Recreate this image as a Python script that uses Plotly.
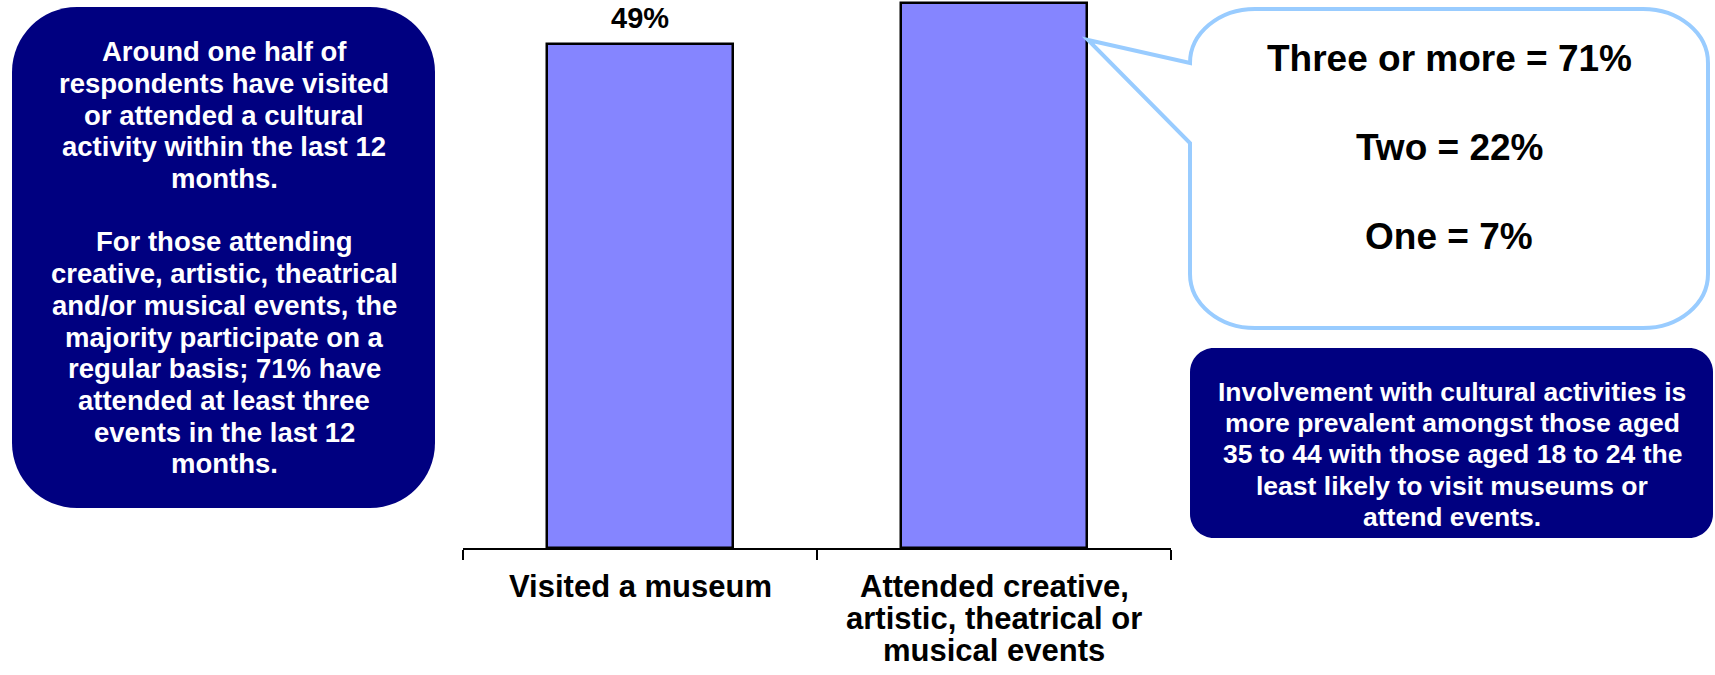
import plotly.graph_objects as go

# Figure size in pixels; everything outside the bar axes is placed in paper units
W, H = 1715, 675

categories = ["Visited a museum", "Attended creative, artistic, theatrical or musical events"]
category_lines = [["Visited a museum"], ["Attended creative,", "artistic, theatrical or", "musical events"]]
values = [49, 53]
show_value = [True, False]

frequency_lines = ["Three or more = 71%", "Two = 22%", "One = 7%"]

left_note = [
    "Around one half of",
    "respondents have visited",
    "or attended a cultural",
    "activity within the last 12",
    "months.",
    "",
    "For those attending",
    "creative, artistic, theatrical",
    "and/or musical events, the",
    "majority participate on a",
    "regular basis; 71% have",
    "attended at least three",
    "events in the last 12",
    "months.",
]

right_note = [
    "Involvement with cultural activities is",
    "more prevalent amongst those aged",
    "35 to 44 with those aged 18 to 24 the",
    "least likely to visit museums or",
    "attend events.",
]

FONT = "Liberation Sans, Arial, Helvetica, sans-serif"
NAVY = "#000080"
BAR_FILL = "#8585FF"
BUBBLE_LINE = "#99CCFF"


def px(x):
    return x / W


def py(y):
    return 1 - y / H


def pt(x, y):
    return f"{px(x):.5f},{py(y):.5f}"


def rounded_rect_path(x0, y0, x1, y1, rx, ry, tail=None):
    """Rounded rectangle (pixel box) as an SVG path in paper units.
    tail = (y_low, tip_x, tip_y, y_high) adds a wedge on the left edge."""
    k = 0.5523
    p = [f"M{pt(x0 + rx, y0)}", f"L{pt(x1 - rx, y0)}",
         f"C{pt(x1 - rx + k * rx, y0)} {pt(x1, y0 + ry - k * ry)} {pt(x1, y0 + ry)}",
         f"L{pt(x1, y1 - ry)}",
         f"C{pt(x1, y1 - ry + k * ry)} {pt(x1 - rx + k * rx, y1)} {pt(x1 - rx, y1)}",
         f"L{pt(x0 + rx, y1)}",
         f"C{pt(x0 + rx - k * rx, y1)} {pt(x0, y1 - ry + k * ry)} {pt(x0, y1 - ry)}"]
    if tail is not None:
        y_low, tx, ty, y_high = tail
        p += [f"L{pt(x0, y_low)}", f"L{pt(tx, ty)}", f"L{pt(x0, y_high)}"]
    p += [f"L{pt(x0, y0 + ry)}",
          f"C{pt(x0, y0 + ry - k * ry)} {pt(x0 + rx - k * rx, y0)} {pt(x0 + rx, y0)}", "Z"]
    return " ".join(p)


fig = go.Figure()
fig.add_trace(go.Bar(
    x=categories,
    y=values,
    width=0.528,
    marker=dict(color=BAR_FILL, line=dict(color="black", width=2.5)),
    hoverinfo="skip",
))

shapes = [
    # navy summary panel on the left
    dict(type="path", xref="paper", yref="paper", layer="above",
         path=rounded_rect_path(12, 7, 435, 508, 65, 65),
         fillcolor=NAVY, line=dict(width=0)),
    # speech bubble pointing at the events bar
    dict(type="path", xref="paper", yref="paper", layer="above",
         path=rounded_rect_path(1190, 9, 1708, 328, 65, 54, tail=(143, 1088, 40, 63)),
         fillcolor="white", line=dict(color=BUBBLE_LINE, width=4)),
    # navy note panel, bottom right
    dict(type="path", xref="paper", yref="paper", layer="above",
         path=rounded_rect_path(1190, 348, 1713, 538, 24, 24),
         fillcolor=NAVY, line=dict(width=0)),
]

annotations = []

# value labels above the bars
for cat, v, show in zip(categories, values, show_value):
    if show:
        annotations.append(dict(
            x=cat, y=v, xref="x", yref="y", text=f"<b>{v}%</b>", showarrow=False,
            xanchor="center", yanchor="middle", yshift=26,
            font=dict(family=FONT, size=29, color="black"),
        ))

# category labels under the axis, one annotation per line
for cat, lines in zip(categories, category_lines):
    for i, line in enumerate(lines):
        annotations.append(dict(
            x=cat, y=py(586 + 32 * i), xref="x", yref="paper", text=f"<b>{line}</b>",
            showarrow=False, xanchor="center", yanchor="middle",
            font=dict(family=FONT, size=31, color="black"),
        ))

# left panel text
for i, line in enumerate(left_note):
    if line:
        annotations.append(dict(
            x=px(224), y=py(51.7 + 31.7 * i), xref="paper", yref="paper",
            text=f"<b>{line}</b>", showarrow=False, xanchor="center", yanchor="middle",
            font=dict(family=FONT, size=27.5, color="white"),
        ))

# bubble text
for i, line in enumerate(frequency_lines):
    annotations.append(dict(
        x=px(1449), y=py(59 + 88.5 * i), xref="paper", yref="paper",
        text=f"<b>{line}</b>", showarrow=False, xanchor="center", yanchor="middle",
        font=dict(family=FONT, size=37, color="black"),
    ))

# bottom-right panel text
for i, line in enumerate(right_note):
    annotations.append(dict(
        x=px(1452), y=py(392 + 31.2 * i), xref="paper", yref="paper",
        text=f"<b>{line}</b>", showarrow=False, xanchor="center", yanchor="middle",
        font=dict(family=FONT, size=26.5, color="white"),
    ))

fig.update_layout(
    width=W,
    height=H,
    margin=dict(l=0, r=0, t=0, b=0),
    paper_bgcolor="white",
    plot_bgcolor="white",
    showlegend=False,
    bargap=0,
    shapes=shapes,
    annotations=annotations,
    xaxis=dict(
        domain=[px(463), px(1171)],
        type="category",
        range=[-0.5, 1.5],
        showline=True, linecolor="black", linewidth=2,
        ticks="outside", ticklen=10, tickwidth=2, tickcolor="black",
        tickson="boundaries",
        showticklabels=False, showgrid=False, zeroline=False,
        fixedrange=True,
    ),
    yaxis=dict(
        domain=[py(548), 1],
        range=[0, 53.28],
        visible=False, showgrid=False, zeroline=False,
        fixedrange=True,
    ),
)

fig.write_html("out.html")
